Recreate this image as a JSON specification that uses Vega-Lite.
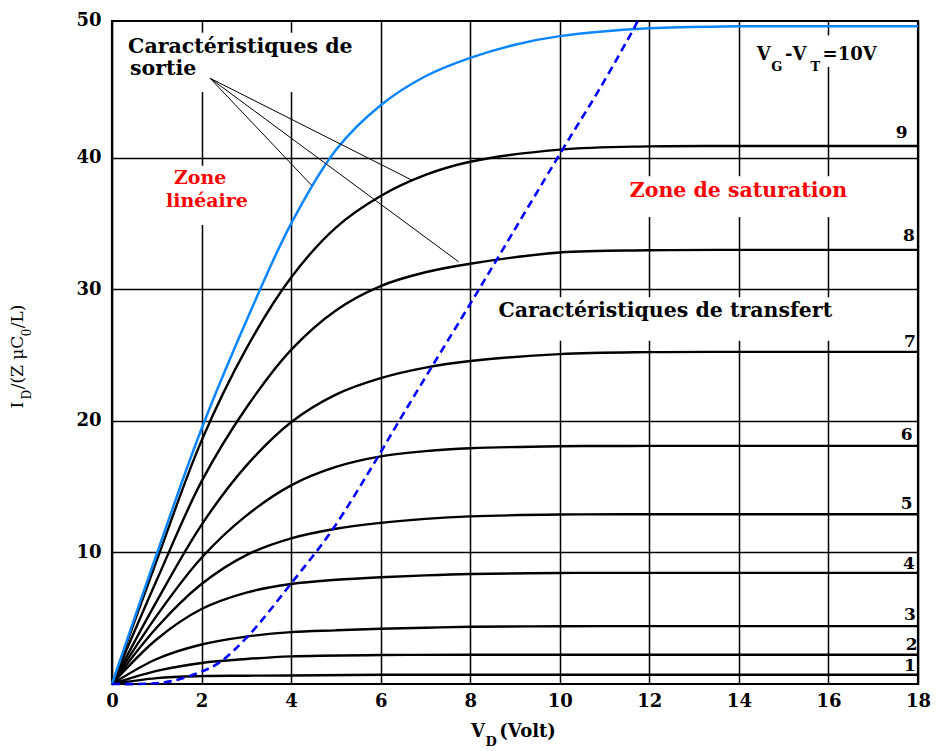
{
  "$schema": "https://vega.github.io/schema/vega-lite/v6.json",
  "width": 806,
  "height": 663,
  "autosize": {"type": "none"},
  "padding": {"left": 112, "top": 21, "right": 18, "bottom": 67},
  "background": "white",
  "config": {
    "view": {"stroke": "#000", "strokeWidth": 2.2},
    "axis": {
      "labelFont": "DejaVu Serif",
      "labelFontWeight": "bold",
      "labelFontSize": 18,
      "labelColor": "#000",
      "ticks": false,
      "domain": false,
      "gridColor": "#000",
      "gridWidth": 1.5,
      "labelOverlap": false,
      "labelFlush": false,
      "labelBound": false
    }
  },
  "datasets": {
    "curves": [
      {"curve": 1, "x": 0, "y": 0}, {"curve": 1, "x": 1, "y": 0.45}, {"curve": 1, "x": 2, "y": 0.6}, {"curve": 1, "x": 3, "y": 0.63}, {"curve": 1, "x": 4, "y": 0.65}, {"curve": 1, "x": 6, "y": 0.7}, {"curve": 1, "x": 8, "y": 0.7}, {"curve": 1, "x": 10, "y": 0.7}, {"curve": 1, "x": 12, "y": 0.7}, {"curve": 1, "x": 14, "y": 0.7}, {"curve": 1, "x": 16, "y": 0.7}, {"curve": 1, "x": 18, "y": 0.7},
      {"curve": 2, "x": 0, "y": 0}, {"curve": 2, "x": 1, "y": 1.0}, {"curve": 2, "x": 2, "y": 1.6}, {"curve": 2, "x": 3, "y": 1.9}, {"curve": 2, "x": 4, "y": 2.1}, {"curve": 2, "x": 6, "y": 2.2}, {"curve": 2, "x": 8, "y": 2.22}, {"curve": 2, "x": 10, "y": 2.22}, {"curve": 2, "x": 12, "y": 2.22}, {"curve": 2, "x": 14, "y": 2.22}, {"curve": 2, "x": 16, "y": 2.22}, {"curve": 2, "x": 18, "y": 2.22},
      {"curve": 3, "x": 0, "y": 0}, {"curve": 3, "x": 1, "y": 1.9}, {"curve": 3, "x": 2, "y": 3.0}, {"curve": 3, "x": 3, "y": 3.6}, {"curve": 3, "x": 4, "y": 3.94}, {"curve": 3, "x": 5, "y": 4.08}, {"curve": 3, "x": 6, "y": 4.2}, {"curve": 3, "x": 7, "y": 4.28}, {"curve": 3, "x": 8, "y": 4.35}, {"curve": 3, "x": 10, "y": 4.39}, {"curve": 3, "x": 12, "y": 4.4}, {"curve": 3, "x": 14, "y": 4.4}, {"curve": 3, "x": 16, "y": 4.4}, {"curve": 3, "x": 18, "y": 4.4},
      {"curve": 4, "x": 0, "y": 0}, {"curve": 4, "x": 1, "y": 3.4}, {"curve": 4, "x": 2, "y": 5.7}, {"curve": 4, "x": 3, "y": 6.95}, {"curve": 4, "x": 4, "y": 7.6}, {"curve": 4, "x": 5, "y": 7.92}, {"curve": 4, "x": 6, "y": 8.12}, {"curve": 4, "x": 7, "y": 8.26}, {"curve": 4, "x": 8, "y": 8.36}, {"curve": 4, "x": 10, "y": 8.44}, {"curve": 4, "x": 12, "y": 8.45}, {"curve": 4, "x": 14, "y": 8.45}, {"curve": 4, "x": 16, "y": 8.45}, {"curve": 4, "x": 18, "y": 8.45},
      {"curve": 5, "x": 0, "y": 0}, {"curve": 5, "x": 1, "y": 4.3}, {"curve": 5, "x": 2, "y": 7.6}, {"curve": 5, "x": 3, "y": 9.8}, {"curve": 5, "x": 4, "y": 11.07}, {"curve": 5, "x": 5, "y": 11.8}, {"curve": 5, "x": 6, "y": 12.25}, {"curve": 5, "x": 7, "y": 12.55}, {"curve": 5, "x": 8, "y": 12.74}, {"curve": 5, "x": 10, "y": 12.88}, {"curve": 5, "x": 12, "y": 12.9}, {"curve": 5, "x": 14, "y": 12.9}, {"curve": 5, "x": 16, "y": 12.9}, {"curve": 5, "x": 18, "y": 12.9},
      {"curve": 6, "x": 0, "y": 0}, {"curve": 6, "x": 1, "y": 5.2}, {"curve": 6, "x": 2, "y": 9.6}, {"curve": 6, "x": 3, "y": 12.8}, {"curve": 6, "x": 4, "y": 15.1}, {"curve": 6, "x": 5, "y": 16.5}, {"curve": 6, "x": 6, "y": 17.3}, {"curve": 6, "x": 7, "y": 17.7}, {"curve": 6, "x": 8, "y": 17.92}, {"curve": 6, "x": 10, "y": 18.07}, {"curve": 6, "x": 12, "y": 18.1}, {"curve": 6, "x": 14, "y": 18.1}, {"curve": 6, "x": 16, "y": 18.1}, {"curve": 6, "x": 18, "y": 18.1},
      {"curve": 7, "x": 0, "y": 0}, {"curve": 7, "x": 1, "y": 6.3}, {"curve": 7, "x": 2, "y": 12.1}, {"curve": 7, "x": 3, "y": 16.6}, {"curve": 7, "x": 4, "y": 19.9}, {"curve": 7, "x": 5, "y": 22.0}, {"curve": 7, "x": 6, "y": 23.25}, {"curve": 7, "x": 7, "y": 24.05}, {"curve": 7, "x": 8, "y": 24.55}, {"curve": 7, "x": 10, "y": 25.08}, {"curve": 7, "x": 12, "y": 25.23}, {"curve": 7, "x": 14, "y": 25.25}, {"curve": 7, "x": 16, "y": 25.25}, {"curve": 7, "x": 18, "y": 25.25},
      {"curve": 8, "x": 0, "y": 0}, {"curve": 8, "x": 1, "y": 7.9}, {"curve": 8, "x": 2, "y": 15.4}, {"curve": 8, "x": 3, "y": 21.0}, {"curve": 8, "x": 4, "y": 25.4}, {"curve": 8, "x": 5, "y": 28.4}, {"curve": 8, "x": 6, "y": 30.25}, {"curve": 8, "x": 7, "y": 31.3}, {"curve": 8, "x": 8, "y": 31.95}, {"curve": 8, "x": 10, "y": 32.8}, {"curve": 8, "x": 12, "y": 32.97}, {"curve": 8, "x": 14, "y": 33.0}, {"curve": 8, "x": 16, "y": 33.0}, {"curve": 8, "x": 18, "y": 33.0},
      {"curve": 9, "x": 0, "y": 0}, {"curve": 9, "x": 1, "y": 9.4}, {"curve": 9, "x": 2, "y": 18.5}, {"curve": 9, "x": 3, "y": 25.5}, {"curve": 9, "x": 4, "y": 30.9}, {"curve": 9, "x": 5, "y": 34.7}, {"curve": 9, "x": 6, "y": 37.1}, {"curve": 9, "x": 7, "y": 38.7}, {"curve": 9, "x": 8, "y": 39.7}, {"curve": 9, "x": 10, "y": 40.62}, {"curve": 9, "x": 12, "y": 40.87}, {"curve": 9, "x": 14, "y": 40.9}, {"curve": 9, "x": 16, "y": 40.9}, {"curve": 9, "x": 18, "y": 40.9},
      {"curve": 10, "x": 0, "y": 0}, {"curve": 10, "x": 1, "y": 9.9}, {"curve": 10, "x": 2, "y": 19.4}, {"curve": 10, "x": 3, "y": 27.6}, {"curve": 10, "x": 4, "y": 35.0}, {"curve": 10, "x": 5, "y": 40.6}, {"curve": 10, "x": 6, "y": 44.0}, {"curve": 10, "x": 7, "y": 46.2}, {"curve": 10, "x": 8, "y": 47.6}, {"curve": 10, "x": 9, "y": 48.6}, {"curve": 10, "x": 10, "y": 49.25}, {"curve": 10, "x": 12, "y": 49.85}, {"curve": 10, "x": 14, "y": 50.0}, {"curve": 10, "x": 16, "y": 50.0}, {"curve": 10, "x": 18, "y": 50.0}
    ],
    "transfer": [
      {"x": 0, "y": 0}, {"x": 0.8, "y": 0.02}, {"x": 1.3, "y": 0.2}, {"x": 1.97, "y": 0.9}, {"x": 2.41, "y": 1.66}, {"x": 3.05, "y": 3.69}, {"x": 4.0, "y": 7.64}, {"x": 4.91, "y": 11.67}, {"x": 5.91, "y": 17.1}, {"x": 6.36, "y": 19.7}, {"x": 7.14, "y": 24.1}, {"x": 8.0, "y": 28.9}, {"x": 8.6, "y": 32.3}, {"x": 10.03, "y": 40.45}, {"x": 10.9, "y": 45.3}, {"x": 11.65, "y": 49.8}, {"x": 11.74, "y": 50.4}
    ],
    "pointers": [
      {"x": 2.19, "y": 46.05, "x2": 6.7, "y2": 38.3},
      {"x": 2.19, "y": 46.05, "x2": 7.74, "y2": 32.1},
      {"x": 2.19, "y": 46.05, "x2": 4.46, "y2": 37.9}
    ],
    "masks": [
      {"x": 0.2, "x2": 5.6, "y": 45.0, "y2": 49.5},
      {"x": 1.3, "x2": 2.7, "y": 34.9, "y2": 39.4},
      {"x": 11.45, "x2": 16.6, "y": 35.5, "y2": 38.6},
      {"x": 8.6, "x2": 16.3, "y": 26.1, "y2": 29.4},
      {"x": 14.2, "x2": 17.4, "y": 46.9, "y2": 49.3}
    ],
    "notes": [
      {"role": "black", "x": 0.36, "y": 48.0, "text": "Caractéristiques de"},
      {"role": "black", "x": 0.4, "y": 46.27, "text": "sortie"},
      {"role": "black", "x": 8.63, "y": 27.87, "text": "Caractéristiques de transfert"},
      {"role": "red", "x": 1.97, "y": 38.0, "text": "Zone"},
      {"role": "red", "x": 2.12, "y": 36.25, "text": "linéaire"},
      {"role": "red2", "x": 13.99, "y": 37.0, "text": "Zone de saturation"},
      {"role": "vg", "x": 14.4, "y": 47.41, "text": "V"},
      {"role": "vg", "x": 15.03, "y": 47.41, "text": "-"},
      {"role": "vg", "x": 15.2, "y": 47.41, "text": "V"},
      {"role": "vg", "x": 15.87, "y": 47.41, "text": "=10V"},
      {"role": "vgsub", "x": 14.72, "y": 46.58, "text": "G"},
      {"role": "vgsub", "x": 15.6, "y": 46.58, "text": "T"},
      {"role": "num", "x": 17.77, "y": 41.54, "text": "9"},
      {"role": "num", "x": 17.93, "y": 33.67, "text": "8"},
      {"role": "num", "x": 17.95, "y": 25.61, "text": "7"},
      {"role": "num", "x": 17.88, "y": 18.52, "text": "6"},
      {"role": "num", "x": 17.88, "y": 13.32, "text": "5"},
      {"role": "num", "x": 17.93, "y": 8.76, "text": "4"},
      {"role": "num", "x": 17.95, "y": 4.88, "text": "3"},
      {"role": "num", "x": 17.99, "y": 2.55, "text": "2"},
      {"role": "num", "x": 17.95, "y": 0.97, "text": "1"},
      {"role": "ytitle", "x": -1.99, "y": 20.95, "text": "I"},
      {"role": "ytitle", "x": -1.99, "y": 22.4, "text": "/(Z μC"},
      {"role": "ytitle", "x": -1.99, "y": 27.04, "text": "/L)"},
      {"role": "ytitlesub", "x": -1.81, "y": 21.63, "text": "D"},
      {"role": "ytitlesub", "x": -1.81, "y": 26.43, "text": "0"},
      {"role": "xtitle", "x": 8.02, "y": -4.0, "text": "V"},
      {"role": "xtitle", "x": 8.65, "y": -4.0, "text": "(Volt)"},
      {"role": "xtitlesub", "x": 8.34, "y": -4.72, "text": "D"}
    ]
  },
  "encoding": {
    "x": {
      "field": "x", "type": "quantitative",
      "scale": {"domain": [0, 18], "nice": false},
      "axis": {"values": [0, 2, 4, 6, 8, 10, 12, 14, 16, 18], "title": null, "grid": true, "labelPadding": 8}
    },
    "y": {
      "field": "y", "type": "quantitative",
      "scale": {"domain": [0, 50.4], "nice": false},
      "axis": {
        "values": [10, 20, 30, 40, 50], "title": null, "grid": true, "labelPadding": 11,
        "gridOpacity": {"condition": {"test": "datum.value >= 50", "value": 0}, "value": 1},
        "labelOffset": {"condition": {"test": "datum.value >= 50", "value": -6}, "value": 0}
      }
    }
  },
  "layer": [
    {
      "data": {"name": "masks"},
      "mark": {"type": "rect", "color": "white", "strokeWidth": 0},
      "encoding": {"x2": {"field": "x2"}, "y2": {"field": "y2"}}
    },
    {
      "data": {"name": "curves"},
      "transform": [{"filter": "datum.curve < 10"}],
      "mark": {"type": "line", "color": "#000", "strokeWidth": 2.4, "interpolate": "catmull-rom"},
      "encoding": {"detail": {"field": "curve", "type": "nominal"}}
    },
    {
      "data": {"name": "curves"},
      "transform": [{"filter": "datum.curve == 10"}],
      "mark": {"type": "line", "color": "#0b86ff", "strokeWidth": 2.5, "interpolate": "catmull-rom"},
      "encoding": {}
    },
    {
      "data": {"name": "transfer"},
      "mark": {"type": "line", "color": "#0000ff", "strokeWidth": 2.6, "strokeDash": [8, 5], "interpolate": "catmull-rom"},
      "encoding": {}
    },
    {
      "data": {"name": "pointers"},
      "mark": {"type": "rule", "color": "#000", "strokeWidth": 1},
      "encoding": {"x2": {"field": "x2"}, "y2": {"field": "y2"}}
    },
    {
      "data": {"name": "notes"},
      "transform": [{"filter": "datum.role == 'black'"}],
      "mark": {"type": "text", "font": "DejaVu Serif", "fontWeight": "bold", "fontSize": 20.5, "align": "left", "baseline": "alphabetic", "color": "#000"},
      "encoding": {"text": {"field": "text"}}
    },
    {
      "data": {"name": "notes"},
      "transform": [{"filter": "datum.role == 'red'"}],
      "mark": {"type": "text", "font": "DejaVu Serif", "fontWeight": "bold", "fontSize": 19, "align": "center", "baseline": "alphabetic", "color": "#ff0000"},
      "encoding": {"text": {"field": "text"}}
    },
    {
      "data": {"name": "notes"},
      "transform": [{"filter": "datum.role == 'red2'"}],
      "mark": {"type": "text", "font": "DejaVu Serif", "fontWeight": "bold", "fontSize": 20.5, "align": "center", "baseline": "alphabetic", "color": "#ff0000"},
      "encoding": {"text": {"field": "text"}}
    },
    {
      "data": {"name": "notes"},
      "transform": [{"filter": "datum.role == 'vg'"}],
      "mark": {"type": "text", "font": "DejaVu Serif", "fontWeight": "bold", "fontSize": 18, "align": "left", "baseline": "alphabetic", "color": "#000"},
      "encoding": {"text": {"field": "text"}}
    },
    {
      "data": {"name": "notes"},
      "transform": [{"filter": "datum.role == 'vgsub'"}],
      "mark": {"type": "text", "font": "DejaVu Serif", "fontWeight": "bold", "fontSize": 13, "align": "left", "baseline": "alphabetic", "color": "#000"},
      "encoding": {"text": {"field": "text"}}
    },
    {
      "data": {"name": "notes"},
      "transform": [{"filter": "datum.role == 'num'"}],
      "mark": {"type": "text", "font": "DejaVu Serif", "fontWeight": "bold", "fontSize": 17, "align": "right", "baseline": "alphabetic", "color": "#000"},
      "encoding": {"text": {"field": "text"}}
    },
    {
      "data": {"name": "notes"},
      "transform": [{"filter": "datum.role == 'ytitle'"}],
      "mark": {"type": "text", "font": "DejaVu Serif", "fontSize": 17, "angle": 270, "align": "left", "baseline": "alphabetic", "color": "#000"},
      "encoding": {"text": {"field": "text"}}
    },
    {
      "data": {"name": "notes"},
      "transform": [{"filter": "datum.role == 'ytitlesub'"}],
      "mark": {"type": "text", "font": "DejaVu Serif", "fontSize": 12, "angle": 270, "align": "left", "baseline": "alphabetic", "color": "#000"},
      "encoding": {"text": {"field": "text"}}
    },
    {
      "data": {"name": "notes"},
      "transform": [{"filter": "datum.role == 'xtitle'"}],
      "mark": {"type": "text", "font": "DejaVu Serif", "fontWeight": "bold", "fontSize": 18, "align": "left", "baseline": "alphabetic", "color": "#000"},
      "encoding": {"text": {"field": "text"}}
    },
    {
      "data": {"name": "notes"},
      "transform": [{"filter": "datum.role == 'xtitlesub'"}],
      "mark": {"type": "text", "font": "DejaVu Serif", "fontWeight": "bold", "fontSize": 13, "align": "left", "baseline": "alphabetic", "color": "#000"},
      "encoding": {"text": {"field": "text"}}
    }
  ]
}
